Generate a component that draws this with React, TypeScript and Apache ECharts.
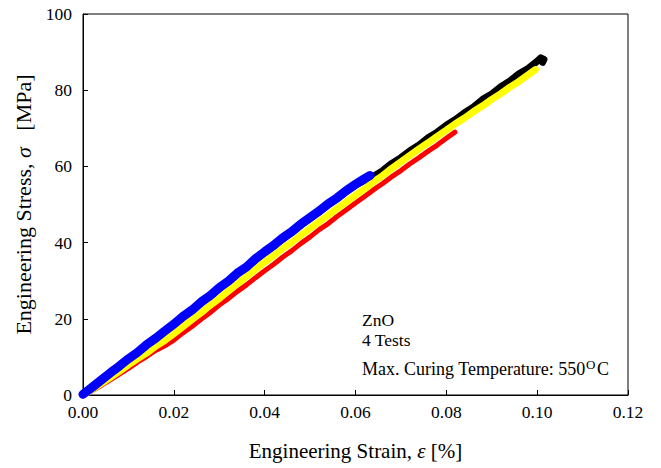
import React, { useEffect, useRef } from "react";
import * as echarts from "echarts";

// strain [-], stress [MPa]
const blackTest: [number, number][] = [
  [0, 0.1], [0.002, 1.8], [0.004, 3.7], [0.006, 5.5], [0.008, 7.4], [0.01, 9.2],
  [0.012, 11.0], [0.014, 12.9], [0.016, 14.7], [0.018, 16.5], [0.02, 18.4],
  [0.022, 20.3], [0.024, 22.1], [0.026, 24.1], [0.028, 25.9], [0.03, 27.9],
  [0.032, 29.7], [0.034, 31.7], [0.036, 33.4], [0.038, 35.4], [0.04, 37.3],
  [0.042, 39.1], [0.044, 40.9], [0.046, 42.7], [0.048, 44.6], [0.05, 46.3],
  [0.052, 48.1], [0.054, 49.9], [0.056, 51.6], [0.058, 53.4], [0.06, 55.1],
  [0.062, 56.3], [0.064, 57.4], [0.066, 58.9], [0.068, 60.8], [0.07, 62.3],
  [0.072, 64.1], [0.074, 65.6], [0.076, 67.5], [0.078, 69.0], [0.08, 70.8],
  [0.082, 72.3], [0.084, 74.1], [0.086, 75.6], [0.088, 77.6], [0.09, 79.0],
  [0.092, 80.9], [0.094, 82.4], [0.096, 84.3], [0.098, 85.7], [0.1, 87.6],
  [0.1008, 88.5], [0.1015, 88.1], [0.1012, 87.3],
];

const redTest: [number, number][] = [
  [0, 0], [0.002, 1.1], [0.004, 2.5], [0.006, 4.0], [0.008, 5.5], [0.01, 7.0],
  [0.012, 8.6], [0.014, 10.1], [0.016, 11.7], [0.018, 12.9], [0.02, 14.4],
  [0.022, 16.3], [0.024, 18.0], [0.026, 19.9], [0.028, 21.6], [0.03, 23.6],
  [0.032, 25.3], [0.034, 27.2], [0.036, 28.9], [0.038, 30.8], [0.04, 32.6],
  [0.042, 34.3], [0.044, 36.2], [0.046, 37.9], [0.048, 39.8], [0.05, 41.5],
  [0.052, 43.4], [0.054, 45.0], [0.056, 46.9], [0.058, 48.6], [0.06, 50.4],
  [0.062, 52.1], [0.064, 53.9], [0.066, 55.5], [0.068, 57.3], [0.07, 58.9],
  [0.072, 60.7], [0.074, 62.3], [0.076, 64.0], [0.078, 65.6], [0.08, 67.4],
  [0.0819, 69.0],
];

const yellowTest: [number, number][] = [
  [0, 0], [0.002, 1.4], [0.004, 3.0], [0.006, 4.6], [0.008, 6.2], [0.01, 7.9],
  [0.012, 9.5], [0.014, 11.0], [0.016, 12.8], [0.018, 14.3], [0.02, 16.1],
  [0.022, 17.9], [0.024, 19.8], [0.026, 21.6], [0.028, 23.6], [0.03, 25.3],
  [0.032, 27.4], [0.034, 29.2], [0.036, 31.1], [0.038, 33.0], [0.04, 34.9],
  [0.042, 36.6], [0.044, 38.5], [0.046, 40.1], [0.048, 42.0], [0.05, 43.7],
  [0.052, 45.5], [0.054, 47.2], [0.056, 49.0], [0.058, 50.7], [0.06, 52.5],
  [0.062, 54.1], [0.064, 56.0], [0.066, 57.6], [0.068, 59.5], [0.07, 61.2],
  [0.072, 62.9], [0.074, 64.6], [0.076, 66.2], [0.078, 67.9], [0.08, 69.5],
  [0.082, 71.2], [0.084, 72.7], [0.086, 74.4], [0.088, 75.9], [0.09, 77.6],
  [0.092, 79.1], [0.094, 80.8], [0.096, 82.3], [0.098, 84.0], [0.0996, 85.4],
];

const blueTest: [number, number][] = [
  [0, 0.2], [0.002, 2.0], [0.004, 3.9], [0.006, 5.8], [0.008, 7.6], [0.01, 9.5],
  [0.012, 11.2], [0.014, 13.2], [0.016, 14.9], [0.018, 16.8], [0.02, 18.6],
  [0.022, 20.6], [0.024, 22.3], [0.026, 24.4], [0.028, 26.1], [0.03, 28.2],
  [0.032, 29.9], [0.034, 32.0], [0.036, 33.6], [0.038, 35.8], [0.04, 37.6],
  [0.042, 39.3], [0.044, 41.3], [0.046, 42.9], [0.048, 44.9], [0.05, 46.6],
  [0.052, 48.3], [0.054, 50.2], [0.056, 51.8], [0.058, 53.7], [0.06, 55.3],
  [0.062, 56.8], [0.0632, 57.6],
];

const xTicks = [0, 0.02, 0.04, 0.06, 0.08, 0.1, 0.12];
const yTicks = [0, 20, 40, 60, 80, 100];

const annotationLines = ["ZnO", "4 Tests"];
const curingText = "Max. Curing Temperature: 550";
const FONT = "Liberation Serif";

export default function App() {
  const ref = useRef<HTMLDivElement>(null);
  useEffect(() => {
    document.body.style.margin = "0";
    if (!ref.current) return;
    const chart = echarts.init(ref.current, undefined, { renderer: "svg" });
    const mk = (name: string, data: [number, number][], color: string, width: number) => ({
      name,
      type: "line",
      data,
      showSymbol: false,
      symbol: "none",
      lineStyle: { color, width, cap: "round", join: "round" },
      itemStyle: { color },
      silent: true,
    });
    const txt = (text: string, x: number, y: number, size: number, lh: number) => ({
      type: "text",
      x,
      y,
      style: {
        text, fontSize: size, fontFamily: FONT, fill: "#000", lineHeight: lh,
        align: "left", verticalAlign: "middle",
      },
    });
    chart.setOption({
      animation: false,
      textStyle: { fontFamily: FONT, color: "#000" },
      grid: {
        left: 83, right: 33, top: 14, bottom: 73,
        show: true, borderColor: "#000", borderWidth: 1,
      },
      xAxis: {
        type: "value",
        min: xTicks[0],
        max: xTicks[xTicks.length - 1],
        interval: 0.02,
        name: "Engineering Strain, {i|ε} [%]",
        nameLocation: "middle",
        nameGap: 45,
        nameTextStyle: {
          fontFamily: FONT, fontSize: 21, color: "#000",
          rich: { i: { fontFamily: FONT, fontStyle: "italic", fontSize: 21, color: "#000" } },
        },
        axisLine: { lineStyle: { color: "#000", width: 1 } },
        axisTick: { inside: true, length: 5, lineStyle: { color: "#000" } },
        splitLine: { show: false },
        axisLabel: {
          fontFamily: FONT, fontSize: 17.5, lineHeight: 16, color: "#000", margin: 9,
          formatter: (v: number) => v.toFixed(2),
        },
      },
      yAxis: {
        type: "value",
        min: yTicks[0],
        max: yTicks[yTicks.length - 1],
        interval: 20,
        name: "Engineering Stress, {i|σ}   [MPa]",
        nameLocation: "middle",
        nameGap: 48,
        nameTextStyle: {
          fontFamily: FONT, fontSize: 22, color: "#000",
          rich: { i: { fontFamily: FONT, fontStyle: "italic", fontSize: 22, color: "#000" } },
        },
        axisLine: { show: true, lineStyle: { color: "#000", width: 1 } },
        axisTick: { show: true, inside: true, length: 5, lineStyle: { color: "#000" } },
        splitLine: { show: false },
        axisLabel: { fontFamily: FONT, fontSize: 17.5, lineHeight: 16, color: "#000", margin: 11 },
      },
      series: [
        mk("Test 1", blackTest, "#000000", 7),
        mk("Test 2", redTest, "#ff0000", 5),
        mk("Test 3", yellowTest, "#ffff00", 7),
        mk("Test 4", blueTest, "#0000ff", 9),
      ],
      graphic: [
        txt(annotationLines[0], 362, 320, 17.5, 17),
        txt(annotationLines[1], 362, 340, 17.5, 17),
        txt(curingText, 362, 369, 18, 18),
        txt("O", 586, 364, 13, 13),
        txt("C", 597, 369, 18, 18),
      ],
    });
    return () => chart.dispose();
  }, []);
  return <div ref={ref} style={{ width: 661, height: 468 }} />;
}
